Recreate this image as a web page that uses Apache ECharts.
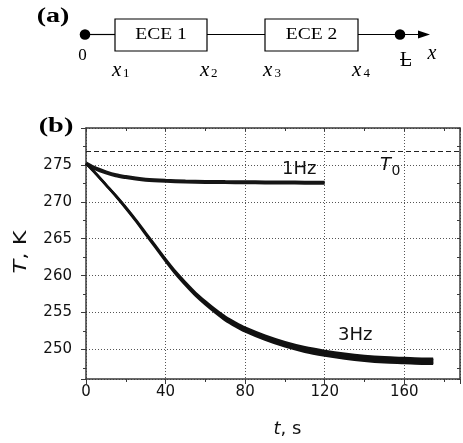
<!DOCTYPE html>
<html><head><meta charset="utf-8">
<script src="https://cdn.jsdelivr.net/npm/echarts@6/dist/echarts.min.js"></script>
<style>html,body{margin:0;padding:0;background:#fff}#c{width:463px;height:443px}</style>
</head><body><div id="c"></div>
<script>
// ---- data ----
const xTicks = [0, 40, 80, 120, 160];
const yTicks = [250, 255, 260, 265, 270, 275];
const T0 = 276.8;
const label1Hz = '1Hz';
const label3Hz = '3Hz';

const t1Hz = [0, 5, 10, 15, 20, 25, 30, 40, 50, 60, 70, 80, 90, 100, 110, 120];
const T1Hz = [275.2, 274.5, 274.0, 273.6, 273.35, 273.15, 273.0, 272.85, 272.75, 272.7, 272.67, 272.65, 272.63, 272.62, 272.6, 272.6];

const t3Hz = [0, 5, 10, 15, 20, 25, 30, 35, 40, 45, 50, 55, 60, 65, 70, 75, 80, 90, 100, 110, 120, 130, 140, 150, 160, 170, 174.5];
const T3HzLow = [275.20, 273.79, 272.28, 270.77, 269.15, 267.44, 265.62, 263.80, 261.98, 260.26, 258.74, 257.33, 256.11, 255.00, 253.98, 253.17, 252.46, 251.34, 250.42, 249.71, 249.20, 248.79, 248.48, 248.27, 248.17, 248.06, 248.06];
const T3HzHigh = [275.20, 273.81, 272.32, 270.83, 269.25, 267.56, 265.78, 264.00, 262.22, 260.54, 259.06, 257.67, 256.49, 255.40, 254.42, 253.63, 252.94, 251.86, 250.98, 250.29, 249.80, 249.41, 249.12, 248.93, 248.83, 248.74, 248.74];

// ---- chart ----
const INK = '#111';
const AX = '#3a3a3a';
const SANS = 'DejaVu Sans';
const SERIF = 'Liberation Serif';

const chart = echarts.init(document.getElementById('c'), null, {renderer: 'canvas'});

const gridLine = {show: true, lineStyle: {color: '#555', type: [1, 2], width: 1}};
const xBase = {type: 'value', min: 0, max: 188, gridIndex: 0};
const yBase = {type: 'value', min: 246, max: 280, gridIndex: 0};

const option = {
  animation: false,
  backgroundColor: '#fff',
  grid: {left: 86, right: 1, top: 128, bottom: 64, containLabel: false},
  xAxis: [
    Object.assign({}, xBase, {
      position: 'bottom', interval: 40,
      axisLine: {show: true, onZero: false, lineStyle: {color: AX, width: 1.5}},
      axisTick: {show: true, inside: false, length: 5, lineStyle: {color: AX}},
      axisLabel: {margin: 6, color: INK, fontFamily: SANS, fontSize: 15,
        formatter: v => xTicks.includes(v) ? String(v) : ''},
      splitLine: gridLine
    }),
    Object.assign({}, xBase, {
      position: 'bottom', interval: 20,
      axisLine: {show: false, onZero: false},
      axisTick: {show: true, inside: false, length: 3, lineStyle: {color: AX}},
      axisLabel: {show: false}, splitLine: {show: false}
    }),
    Object.assign({}, xBase, {
      position: 'top', interval: 20,
      axisLine: {show: true, onZero: false, lineStyle: {color: AX, width: 1.5}},
      axisTick: {show: true, inside: true, length: 3, lineStyle: {color: AX}},
      axisLabel: {show: false}, splitLine: {show: false}
    })
  ],
  yAxis: [
    Object.assign({}, yBase, {
      position: 'left', minInterval: 5, maxInterval: 5,
      axisLine: {show: true, onZero: false, lineStyle: {color: AX, width: 1.5}},
      axisTick: {show: true, inside: false, length: 5, lineStyle: {color: AX}},
      axisLabel: {margin: 14, color: INK, fontFamily: SANS, fontSize: 15,
        formatter: v => yTicks.includes(v) ? String(v) : ''},
      splitLine: gridLine
    }),
    Object.assign({}, yBase, {
      position: 'left', minInterval: 2.5, maxInterval: 2.5,
      axisLine: {show: false, onZero: false},
      axisTick: {show: true, inside: false, length: 3, lineStyle: {color: AX}},
      axisLabel: {show: false}, splitLine: {show: false}
    }),
    Object.assign({}, yBase, {
      position: 'right', minInterval: 2.5, maxInterval: 2.5,
      axisLine: {show: true, onZero: false, lineStyle: {color: AX, width: 1.5}},
      axisTick: {show: true, inside: true, length: 3, lineStyle: {color: AX}},
      axisLabel: {show: false}, splitLine: {show: false}
    })
  ],
  series: [
    {
      name: label1Hz, type: 'line', xAxisIndex: 0, yAxisIndex: 0,
      data: t1Hz.map((t, i) => [t, T1Hz[i]]),
      showSymbol: false, smooth: 0.3,
      lineStyle: {color: '#161616', width: 4, cap: 'butt'},
      markLine: {
        silent: true, symbol: 'none', label: {show: false},
        lineStyle: {type: [5, 3], color: '#222', width: 1},
        data: [{yAxis: T0}]
      },
      z: 3
    },
    {
      name: label3Hz + ' band', type: 'custom', xAxisIndex: 0, yAxisIndex: 0,
      data: t3Hz.map((t, i) => [t, T3HzLow[i], T3HzHigh[i]]),
      encode: {x: 0, y: [1, 2]},
      clip: true,
      renderItem: function (params, api) {
        if (params.dataIndex !== 0) return null;
        const low = t3Hz.map((t, i) => api.coord([t, T3HzLow[i]]));
        const high = t3Hz.map((t, i) => api.coord([t, T3HzHigh[i]])).reverse();
        return {
          type: 'polygon',
          shape: {points: low.concat(high)},
          style: {fill: INK, stroke: INK, lineWidth: 0.5}
        };
      },
      z: 3
    },
    {
      name: label3Hz + ' low', type: 'line', xAxisIndex: 0, yAxisIndex: 0,
      data: t3Hz.map((t, i) => [t, T3HzLow[i]]),
      showSymbol: false, smooth: 0.3,
      lineStyle: {color: INK, width: 2.6, cap: 'butt'},
      z: 4
    },
    {
      name: label3Hz + ' high', type: 'line', xAxisIndex: 0, yAxisIndex: 0,
      data: t3Hz.map((t, i) => [t, T3HzHigh[i]]),
      showSymbol: false, smooth: 0.3,
      lineStyle: {color: INK, width: 2.6, cap: 'butt'},
      z: 4
    }
  ],
  graphic: [
    // panel (a) diagram
    {type: 'text', x: 53, y: 17, scaleX: 1.4, style: {text: '(a)', fontFamily: SERIF, fontWeight: 'bold', fontSize: 20, fill: '#000', align: 'center', verticalAlign: 'middle'}},
    {type: 'line', shape: {x1: 85, y1: 34.5, x2: 115, y2: 34.5}, style: {stroke: '#000', lineWidth: 1.2}},
    {type: 'rect', shape: {x: 115, y: 19, width: 92, height: 32}, style: {stroke: '#000', fill: '#fff', lineWidth: 1.2}},
    {type: 'line', shape: {x1: 207, y1: 34.5, x2: 265, y2: 34.5}, style: {stroke: '#000', lineWidth: 1.2}},
    {type: 'rect', shape: {x: 265, y: 19, width: 93, height: 32}, style: {stroke: '#000', fill: '#fff', lineWidth: 1.2}},
    {type: 'line', shape: {x1: 358, y1: 34.5, x2: 420, y2: 34.5}, style: {stroke: '#000', lineWidth: 1.2}},
    {type: 'polygon', shape: {points: [[418, 30.5], [430, 34.5], [418, 38.5]]}, style: {fill: '#000'}},
    {type: 'circle', shape: {cx: 85, cy: 34.5, r: 5.3}, style: {fill: '#000'}},
    {type: 'circle', shape: {cx: 400, cy: 34.5, r: 5.3}, style: {fill: '#000'}},
    {type: 'text', x: 161, y: 35, scaleX: 1.15, style: {text: 'ECE 1', fontFamily: SERIF, fontSize: 17, fill: '#000', align: 'center', verticalAlign: 'middle'}},
    {type: 'text', x: 311.5, y: 35, scaleX: 1.15, style: {text: 'ECE 2', fontFamily: SERIF, fontSize: 17, fill: '#000', align: 'center', verticalAlign: 'middle'}},
    {type: 'text', x: 82.5, y: 56, style: {text: '0', fontFamily: SERIF, fontSize: 17, fill: '#000', align: 'center', verticalAlign: 'middle'}},
    {type: 'text', x: 112, y: 70, style: {text: 'x', fontFamily: SERIF, fontStyle: 'italic', fontSize: 21, fill: '#000', align: 'left', verticalAlign: 'middle'}},
    {type: 'text', x: 123, y: 74, style: {text: '1', fontFamily: SERIF, fontSize: 13, fill: '#000', align: 'left', verticalAlign: 'middle'}},
    {type: 'text', x: 200, y: 70, style: {text: 'x', fontFamily: SERIF, fontStyle: 'italic', fontSize: 21, fill: '#000', align: 'left', verticalAlign: 'middle'}},
    {type: 'text', x: 211, y: 74, style: {text: '2', fontFamily: SERIF, fontSize: 13, fill: '#000', align: 'left', verticalAlign: 'middle'}},
    {type: 'text', x: 263, y: 70, style: {text: 'x', fontFamily: SERIF, fontStyle: 'italic', fontSize: 21, fill: '#000', align: 'left', verticalAlign: 'middle'}},
    {type: 'text', x: 274.5, y: 74, style: {text: '3', fontFamily: SERIF, fontSize: 13, fill: '#000', align: 'left', verticalAlign: 'middle'}},
    {type: 'text', x: 352, y: 70, style: {text: 'x', fontFamily: SERIF, fontStyle: 'italic', fontSize: 21, fill: '#000', align: 'left', verticalAlign: 'middle'}},
    {type: 'text', x: 363.5, y: 74, style: {text: '4', fontFamily: SERIF, fontSize: 13, fill: '#000', align: 'left', verticalAlign: 'middle'}},
    {type: 'text', x: 406, y: 61, style: {text: 'L', fontFamily: SERIF, fontSize: 20, fill: '#000', align: 'center', verticalAlign: 'middle'}},
    {type: 'line', shape: {x1: 400, y1: 59.5, x2: 411, y2: 59.5}, style: {stroke: '#000', lineWidth: 1}},
    {type: 'text', x: 432, y: 54, style: {text: 'x', fontFamily: SERIF, fontStyle: 'italic', fontSize: 20, fill: '#000', align: 'center', verticalAlign: 'middle'}},
    // panel (b)
    {type: 'text', x: 56, y: 127, scaleX: 1.35, style: {text: '(b)', fontFamily: SERIF, fontWeight: 'bold', fontSize: 21, fill: '#000', align: 'center', verticalAlign: 'middle'}},
    {type: 'text', x: 282, y: 169, z: 10, style: {text: label1Hz, fontFamily: SANS, fontSize: 18, fill: INK, align: 'left', verticalAlign: 'middle'}},
    {type: 'text', x: 338, y: 335, z: 10, style: {text: label3Hz, fontFamily: SANS, fontSize: 18, fill: INK, align: 'left', verticalAlign: 'middle'}},
    {type: 'text', x: 380, y: 165, z: 10, style: {text: 'T', fontFamily: SANS, fontStyle: 'italic', fontSize: 18, fill: INK, align: 'left', verticalAlign: 'middle'}},
    {type: 'text', x: 391.5, y: 171, z: 10, style: {text: '0', fontFamily: SANS, fontSize: 14, fill: INK, align: 'left', verticalAlign: 'middle'}},
    {type: 'text', x: 287.5, y: 429, style: {text: '{i|t}, s', fontFamily: SANS, fontSize: 18, fill: INK, align: 'center', verticalAlign: 'middle',
      rich: {i: {fontFamily: SANS, fontSize: 18, fontStyle: 'italic', fill: INK}}}},
    {type: 'text', x: 21, y: 252, rotation: Math.PI / 2, scaleX: 1.25, style: {text: '{i|T}, K', fontFamily: SANS, fontSize: 18, fill: INK, align: 'center', verticalAlign: 'middle',
      rich: {i: {fontFamily: SANS, fontSize: 18, fontStyle: 'italic', fill: INK}}}}
  ]
};
chart.setOption(option);
</script>
</body></html>
